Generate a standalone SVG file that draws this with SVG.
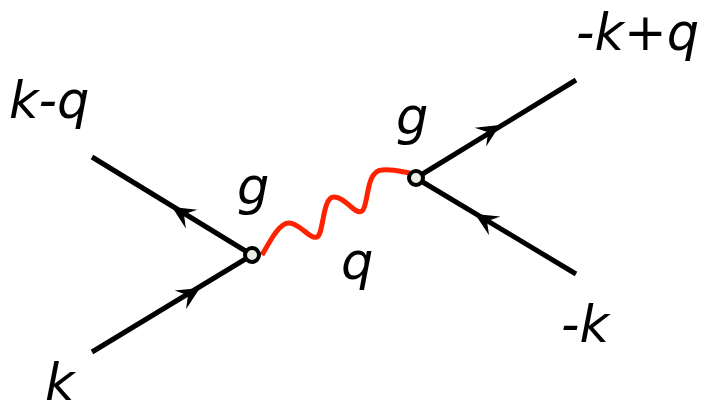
<svg xmlns="http://www.w3.org/2000/svg" xmlns:xlink="http://www.w3.org/1999/xlink" width="709" height="413" viewBox="0 0 709 413">
<style>
.line{stroke:#000;stroke-width:5;fill:none;stroke-linecap:butt}
.wave{stroke:#ff2200;stroke-width:5;fill:none;stroke-linecap:butt}
.vtx{fill:#ececE4;stroke:#000;stroke-width:4}
.lbl{font-family:"DejaVu Sans",sans-serif;font-style:italic;font-size:51px;fill:#000}
</style>
<defs>
<path id="arr" d="M0,0 L-23,-11 L-14,0 L-23,11 Z" fill="#000"/>
</defs>
<g id="connectors">
<line class="line" x1="92" y1="157" x2="252" y2="255"/>
<line class="line" x1="92" y1="352" x2="252" y2="255"/>
<line class="line" x1="416" y1="178" x2="576" y2="80"/>
<line class="line" x1="416" y1="178" x2="576" y2="274"/>
<use xlink:href="#arr" transform="translate(172,207) rotate(-148.5)"/>
<use xlink:href="#arr" transform="translate(200,288) rotate(-31.2)"/>
<use xlink:href="#arr" transform="translate(500,125) rotate(-31.5)"/>
<use xlink:href="#arr" transform="translate(475,214) rotate(-149)"/>
<path class="wave" d="M262,255 C270,241 279,223 289,223 C300,223 310,240 317,237 C324,234 322,197 334,197 C346,197 355,216 362,211 C369,206 365,171 382,170 C395,169 402,172 410,173"/>
</g>
<g id="vertex-left"><circle class="vtx" cx="252" cy="255" r="7"/></g>
<g id="vertex-right"><circle class="vtx" cx="416" cy="178" r="7"/></g>
<g id="labels">
<text class="lbl" x="45" y="400">k</text>
<text class="lbl" x="9" y="118">k-q</text>
<text class="lbl" x="237" y="204">g</text>
<text class="lbl" x="396" y="134">g</text>
<text class="lbl" x="341" y="279">q</text>
<text class="lbl" x="576" y="50">-k+q</text>
<text class="lbl" x="561" y="342">-k</text>
</g>
</svg>
